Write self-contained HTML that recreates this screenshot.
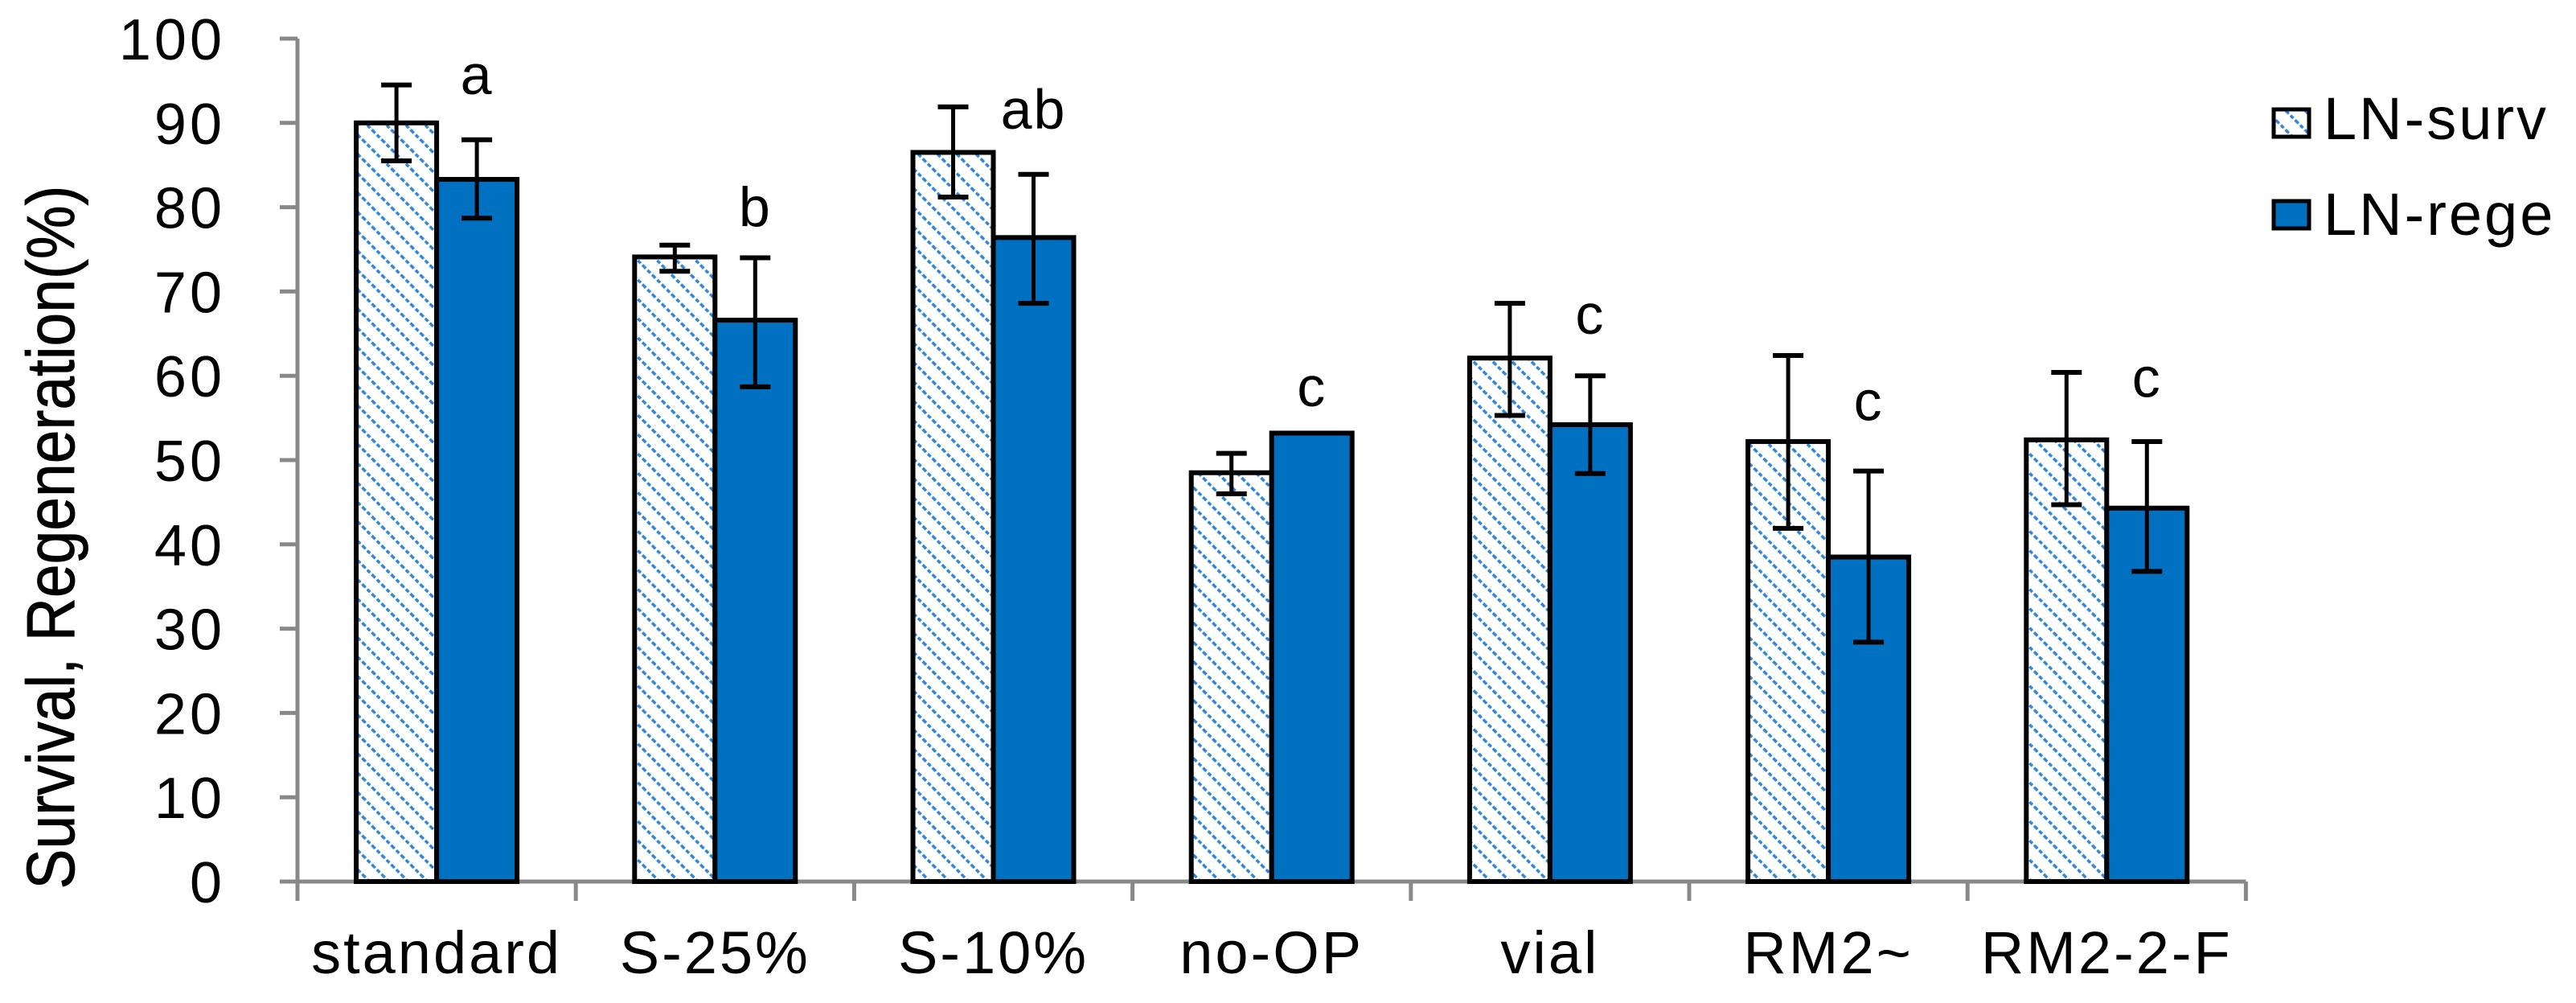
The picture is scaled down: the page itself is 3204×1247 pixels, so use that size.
<!DOCTYPE html>
<html><head><meta charset="utf-8"><style>
html,body{margin:0;padding:0;background:#fff;}
svg{display:block;}
text{font-family:"Liberation Sans",Arial,sans-serif;fill:#000;}
</style></head><body>
<svg id="chart" width="3204" height="1247" viewBox="0 0 3204 1247" xmlns="http://www.w3.org/2000/svg">
<defs>
<pattern id="hatch" patternUnits="userSpaceOnUse" width="17" height="17" patternTransform="rotate(45)">
<rect width="17" height="17" fill="#fff"/>
<line x1="0" y1="8" x2="17" y2="8" stroke="#2f86d9" stroke-width="3.5" stroke-dasharray="5 3"/>
</pattern>
</defs>
<g id="axes"></g>
<g id="bars"></g>
<g id="legend">
<rect x="2828" y="136" width="44" height="34" fill="url(#hatch)" stroke="#000" stroke-width="5"/>
<text x="2890" y="173" font-size="74" letter-spacing="3">LN-surv</text>
<rect x="2828" y="250" width="44" height="34" fill="#0070c0" stroke="#000" stroke-width="5"/>
<text x="2890" y="292" font-size="74" letter-spacing="3">LN-rege</text>
</g>
<text transform="translate(92,668) rotate(-90)" text-anchor="middle" font-size="84" stroke="#000" stroke-width="0.8" textLength="875" lengthAdjust="spacingAndGlyphs">Survival, Regeneration(%)</text>
</svg>
<script>
const categories = ["standard","S-25%","S-10%","no-OP","vial","RM2~","RM2-2-F"];
const survValues = [90.0, 74.1, 86.5, 48.5, 62.1, 52.2, 52.4];
const survErrHigh = [94.5, 75.5, 91.9, 50.8, 68.6, 62.4, 60.4];
const survErrLow = [85.5, 72.4, 81.2, 46.0, 55.3, 41.9, 44.7];
const regeValues = [83.3, 66.6, 76.4, 53.2, 54.2, 38.5, 44.3];
const regeErrHigh = [88.0, 74.0, 83.9, null, 60.0, 48.7, 52.2];
const regeErrLow = [78.7, 58.7, 68.6, null, 48.4, 28.4, 36.8];
const sigLetters = ["a","b","ab","c","c","c","c"];
const sigLetterY = [93.4, 77.7, 89.3, 56.4, 65.0, 54.7, 57.5];
const yTicks = [0,10,20,30,40,50,60,70,80,90,100];

const NS = "http://www.w3.org/2000/svg";
const X0 = 370, CW = 346.2, Y0 = 1096, PXU = 10.48, BW = 100;
function yScale(v){ return Y0 - v*PXU; }
function xCenter(i){ return X0 + CW*(i+0.5); }
function mk(tag, attrs, parent){
  const e = document.createElementNS(NS, tag);
  for (const k in attrs) e.setAttribute(k, attrs[k]);
  parent.appendChild(e); return e;
}
const axes = document.getElementById('axes');
const bars = document.getElementById('bars');

let yl = mk('line',{x1:X0,y1:yScale(100),x2:X0,y2:Y0+3,stroke:'#888',"stroke-width":5},axes);


yTicks.forEach(t=>{
  const tk = mk('line',{x1:X0-22,y1:yScale(t),x2:X0,y2:yScale(t),stroke:'#888',"stroke-width":5},axes);
  
  
  const lb = mk('text',{x:280,y:yScale(t)+26,"text-anchor":"end","font-size":72,"letter-spacing":4},axes);
  lb.textContent = t;
  
  
});
let xl = mk('line',{x1:X0-22,y1:Y0,x2:X0+CW*categories.length,y2:Y0,stroke:'#888',"stroke-width":5},axes);


for (let i=0;i<=categories.length;i++){
  const tk = mk('line',{x1:X0+CW*i,y1:Y0,x2:X0+CW*i,y2:Y0+24,stroke:'#888',"stroke-width":5},axes);
  
  
}
categories.forEach((c,i)=>{
  const lb = mk('text',{x:xCenter(i),y:1210,"text-anchor":"middle","font-size":74,"letter-spacing":3},axes);
  lb.textContent = c;
  
  
});

function errBar(x, hi, lo, name){
  const g = mk('g',{},bars);
  
  
  mk('line',{x1:x,y1:yScale(hi),x2:x,y2:yScale(lo),stroke:'#000',"stroke-width":5},g);
  mk('line',{x1:x-19,y1:yScale(hi),x2:x+19,y2:yScale(hi),stroke:'#000',"stroke-width":6},g);
  mk('line',{x1:x-19,y1:yScale(lo),x2:x+19,y2:yScale(lo),stroke:'#000',"stroke-width":6},g);
}
categories.forEach((c,i)=>{
  const cx = xCenter(i);
  const b1 = mk('rect',{x:cx-BW,y:yScale(survValues[i]),width:BW,height:Y0-yScale(survValues[i]),fill:'url(#hatch)',stroke:'#000',"stroke-width":6},bars);
  
  
  const b2 = mk('rect',{x:cx,y:yScale(regeValues[i]),width:BW,height:Y0-yScale(regeValues[i]),fill:'#0070c0',stroke:'#000',"stroke-width":6},bars);
  
  
  errBar(cx-BW/2, survErrHigh[i], survErrLow[i], 'error-bar-ln-surv-'+c);
  if (regeErrHigh[i]!==null) errBar(cx+BW/2, regeErrHigh[i], regeErrLow[i], 'error-bar-ln-rege-'+c);
  const s = mk('text',{x:cx+BW/2,y:yScale(sigLetterY[i]),"text-anchor":"middle","font-size":70,"letter-spacing":2},bars);
  s.textContent = sigLetters[i];
  
  
});
</script>
</body></html>
